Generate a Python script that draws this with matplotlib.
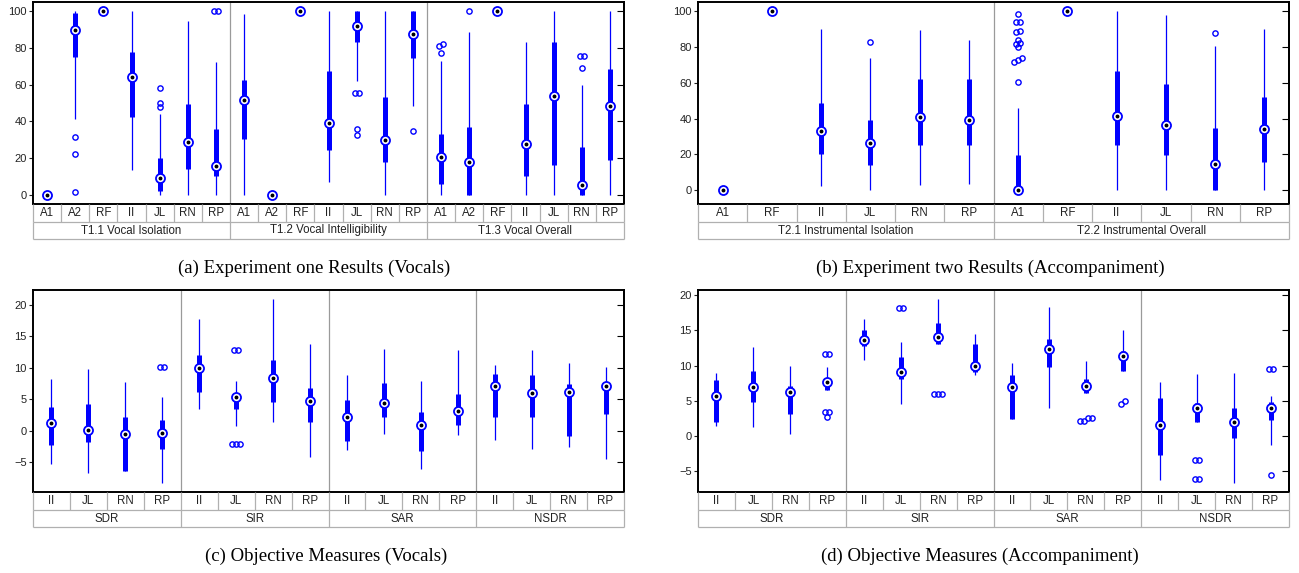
import numpy as np
import matplotlib.pyplot as plt

plt.rcParams['font.family'] = ['Liberation Sans', 'DejaVu Sans']

BLUE = '#0000ff'

# ---------------- (a) Experiment one, vocals (listening test scores)
a_groups = ['T1.1 Vocal Isolation', 'T1.2 Vocal Intelligibility', 'T1.3 Vocal Overall']
a_cats = ['A1', 'A2', 'RF', 'II', 'JL', 'RN', 'RP'] * 3
a_lo = [0, 41.2, 100, 13.6, 0, 0, 0,
        0, 0, 100, 7.1, 62.2, 0, 48.6,
        0, 0, 100, 0, 0, 0, 0]
a_q1 = [0, 75.0, 100, 42.5, 2.2, 14.3, 10.2,
        30.3, 0, 100, 24.7, 83.3, 17.8, 74.6,
        6.2, 0, 100, 10.2, 16.3, 0, 19.1]
a_med = [0, 89.7, 100, 64.1, 9.1, 28.7, 15.6,
         51.9, 0, 100, 39.0, 91.8, 29.9, 87.7,
         20.5, 18.1, 100, 27.8, 54.1, 5.3, 48.6]
a_q3 = [0, 99.0, 100, 77.9, 20.1, 49.7, 35.8,
        62.8, 0, 100, 67.2, 100, 53.4, 100,
        33.0, 36.8, 100, 49.7, 83.1, 26.0, 68.4]
a_hi = [0, 100, 100, 100, 43.9, 94.9, 72.2,
        98.7, 0, 100, 100, 100, 100, 100,
        73.1, 88.7, 100, 83.1, 100, 60.1, 100]
a_out = [[], [31.6, 22.3, 1.8], [], [], [50.1, 48.1, 58.1], [], [100, 100],
         [], [], [], [], [55.7, 55.7, 35.9, 32.5], [], [35.0],
         [82.0, 80.8, 77.1], [100], [], [], [], [75.7, 75.7, 69.1], []]

# ---------------- (b) Experiment two, accompaniment
b_groups = ['T2.1 Instrumental Isolation', 'T2.2 Instrumental Overall']
b_cats = ['A1', 'RF', 'II', 'JL', 'RN', 'RP'] * 2
b_lo = [0, 100, 2.2, 0, 2.6, 3.4,
        0, 100, 0, 0, 0, 0]
b_q1 = [0, 100, 20.1, 13.8, 25.1, 25.3,
        0, 100, 25.3, 19.6, 0, 15.8]
b_med = [0, 100, 32.8, 26.3, 41.0, 39.1,
         0, 100, 41.3, 36.3, 14.5, 33.9]
b_q3 = [0, 100, 48.8, 39.3, 62.2, 62.4,
        19.4, 100, 66.7, 59.4, 34.8, 52.3]
b_hi = [0, 100, 89.9, 73.6, 89.6, 84.0,
        45.8, 100, 100, 97.8, 80.4, 89.9]
b_out = [[], [], [], [83.1], [], [],
         [98.5, 94.0, 93.9, 89.0, 88.3, 83.8, 82.1, 81.9, 80.1, 73.6, 72.8, 71.9, 60.3],
         [], [], [], [87.7], []]

# ---------------- (c) Objective measures, vocals (dB)
c_groups = ['SDR', 'SIR', 'SAR', 'NSDR']
c_cats = ['II', 'JL', 'RN', 'RP'] * 4
c_lo = [-5.3, -6.7, -6.5, -8.3,
        3.4, 0.8, 1.3, -4.3,
        -3.1, -0.5, -6.1, -0.7,
        -1.5, -2.9, -2.7, -4.6]
c_q1 = [-2.3, -1.8, -6.4, -3.0,
        6.1, 3.4, 4.6, 1.4,
        -1.6, 2.2, -3.3, 0.9,
        2.1, 2.2, -0.85, 2.6]
c_med = [1.2, 0.05, -0.5, -0.4,
         9.9, 5.3, 8.3, 4.7,
         2.2, 4.4, 0.85, 3.1,
         7.1, 6.0, 6.2, 7.1]
c_q3 = [3.8, 4.3, 2.1, 1.7,
        12.0, 5.6, 11.2, 6.8,
        4.9, 7.5, 3.0, 5.9,
        9.0, 8.8, 7.4, 7.4]
c_hi = [8.2, 9.8, 7.8, 5.4,
        17.8, 7.9, 21.0, 13.8,
        8.8, 13.0, 7.9, 12.8,
        10.4, 12.9, 10.7, 10.2]
c_out = [[], [], [], [10.2, 10.2],
         [], [12.8, 12.8, -2.2, -2.2, -2.2], [], [],
         [], [], [], [],
         [], [], [], []]

# ---------------- (d) Objective measures, accompaniment (dB)
d_groups = ['SDR', 'SIR', 'SAR', 'NSDR']
d_cats = ['II', 'JL', 'RN', 'RP'] * 4
d_lo = [1.45, 1.2, 0.2, 6.5,
        10.75, 4.5, 13.0, 8.6,
        2.45, 4.0, 6.15, 9.2,
        -6.3, 1.9, -6.7, -1.3]
d_q1 = [2.0, 4.8, 3.1, 6.5,
        12.74, 8.1, 13.0, 9.1,
        2.45, 9.75, 6.15, 9.2,
        -2.8, 1.9, -0.35, 2.3]
d_med = [5.7, 6.9, 6.3, 7.6,
         13.64, 9.1, 14.1, 10.0,
         6.9, 12.3, 7.1, 11.4,
         1.55, 3.9, 1.9, 4.0]
d_q3 = [7.9, 9.2, 7.05, 7.95,
        15.07, 11.2, 16.1, 13.1,
        8.6, 13.8, 8.05, 12.1,
        5.4, 4.6, 3.9, 4.8]
d_hi = [9.0, 12.7, 9.9, 9.75,
        16.58, 13.3, 19.4, 14.5,
        10.4, 18.3, 10.65, 15.0,
        7.6, 8.8, 9.0, 5.7]
d_out = [[], [], [], [11.7, 11.7, 3.4, 3.4, 2.7],
         [], [18.2, 18.2], [6.0, 6.0, 6.0], [],
         [], [], [2.5, 2.5, 2.1, 2.1], [4.9, 4.5],
         [], [-3.5, -3.5, -6.1, -6.1], [], [9.5, 9.5, -5.6]]

pct_ticks = [0, 20, 40, 60, 80, 100]
db_ticks = [-5, 0, 5, 10, 15, 20]

W, H = 1299, 573
fig = plt.figure(figsize=(W / 100, H / 100), dpi=100)

LABEL_FS = 8.3
TXT = '#222222'


def spread(vals, tol, step):
    # side-by-side offsets for outliers that would sit on top of each other
    vals = list(vals)
    offs = np.zeros(len(vals))
    order = np.argsort(vals)
    clusters, cur = [], [order[0]]
    for i in order[1:]:
        if vals[i] - vals[cur[-1]] <= tol:
            cur.append(i)
        else:
            clusters.append(cur)
            cur = [i]
    clusters.append(cur)
    for cl in clusters:
        k = len(cl)
        for j, i in enumerate(cl):
            offs[i] = (j - (k - 1) / 2) * step
    return offs


def panel(x0, y0, w, h, cats, groups, lo, q1, med, q3, hi, outs, ylim, yticks):
    ax = fig.add_axes([x0 / W, 1 - (y0 + h) / H, w / W, h / H])
    n = len(cats)
    x = np.arange(1, n + 1)
    ax.set_xlim(0.5, n + 0.5)
    ax.set_ylim(*ylim)

    ax.vlines(x, lo, hi, color=BLUE, lw=0.9, zorder=2)
    ax.vlines(x, q1, q3, color=BLUE, lw=3.6, capstyle='butt', zorder=3)
    ax.plot(x, med, 'o', ms=6.5, mfc='white', mec=BLUE, mew=1.3, zorder=4)
    ax.plot(x, med, 'o', ms=1.8, color='black', zorder=5)

    step = 4.0 / (w / n)
    tol = 0.015 * (ylim[1] - ylim[0])
    for xi, ov in zip(x, outs):
        if not ov:
            continue
        offs = spread(ov, tol, step)
        ax.plot(xi + offs, ov, 'o', ms=3.8, mfc='none', mec=BLUE, mew=1.0, zorder=4)

    per = n // len(groups)
    for g in range(1, len(groups)):
        ax.axvline(g * per + 0.5, color='#9a9a9a', lw=0.9, zorder=1)

    for s in ax.spines.values():
        s.set_linewidth(1.4)
    ax.set_xticks([])
    ax.set_yticks(yticks)
    ax.tick_params(axis='y', direction='out', length=3, width=0.8,
                   labelsize=8, pad=1.5, colors=TXT)
    sec = ax.secondary_yaxis('right')
    sec.set_yticks(yticks)
    sec.tick_params(direction='in', length=5, width=0.8, labelright=False)
    sec.spines['right'].set_linewidth(1.4)

    # label table under the axes
    lax = fig.add_axes([x0 / W, 1 - (y0 + h + 35) / H, w / W, 35 / H])
    lax.set_xlim(0.5, n + 0.5)
    lax.set_ylim(0, 35)
    lax.axis('off')
    grey = '#b0b0b0'
    for yy in (0, 17):
        lax.hlines(yy, 0.5, n + 0.5, color=grey, lw=0.9, clip_on=False)
    lax.vlines(np.arange(0.5, n + 1), 17, 35, color=grey, lw=0.9, clip_on=False)
    lax.vlines([g * per + 0.5 for g in range(len(groups) + 1)], 0, 17,
               color=grey, lw=0.9, clip_on=False)
    for xi, c in zip(x, cats):
        lax.text(xi, 26, c, ha='center', va='center', fontsize=LABEL_FS, color=TXT)
    for g, name in enumerate(groups):
        lax.text(g * per + 0.5 + per / 2, 8.5, name, ha='center', va='center',
                 fontsize=LABEL_FS, color=TXT)
    return ax


panel(33, 2, 591, 202, a_cats, a_groups, a_lo, a_q1, a_med, a_q3, a_hi, a_out,
      (-4.9, 105), pct_ticks)
panel(698, 2, 591, 202, b_cats, b_groups, b_lo, b_q1, b_med, b_q3, b_hi, b_out,
      (-7.8, 105.2), pct_ticks)
panel(33, 290, 591, 202, c_cats, c_groups, c_lo, c_q1, c_med, c_q3, c_hi, c_out,
      (-9.8, 22.4), db_ticks)
panel(698, 290, 591, 202, d_cats, d_groups, d_lo, d_q1, d_med, d_q3, d_hi, d_out,
      (-8.0, 20.75), db_ticks)

captions = ['(a) Experiment one Results (Vocals)',
            '(b) Experiment two Results (Accompaniment)',
            '(c) Objective Measures (Vocals)',
            '(d) Objective Measures (Accompaniment)']
for (cx, cy), txt in zip([(314, 268), (990, 268), (326, 556), (980, 556)], captions):
    fig.text(cx / W, 1 - cy / H, txt, ha='center', va='center',
             family=['Liberation Serif', 'DejaVu Serif'], fontsize=13.5)

fig.savefig('out.png', dpi=100)
